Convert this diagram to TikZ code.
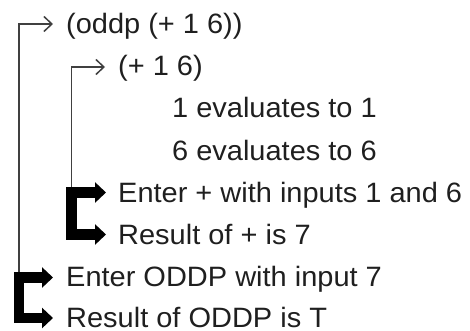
\documentclass[tikz,border=0pt]{standalone}
\usepackage{fontspec}
\setmainfont{Liberation Sans}[FakeStretch=1.035]
\usetikzlibrary{arrows.meta,calc}
\begin{document}
\begin{tikzpicture}[x=1pt,y=-1pt,
  line/.style={anchor=base west,inner sep=0pt,text=black!88,font=\fontsize{28}{34}\selectfont},
  thinarrow/.style={draw=black!75,line width=1.5pt,-{Straight Barb[length=8pt,width=15pt,line width=1.5pt]}},
  thickbracket/.style={draw=black,line width=10.5pt,line join=miter,
     {Triangle[length=11pt,width=20pt]}-{Triangle[length=11pt,width=20pt]}}]
\useasboundingbox (0,0) rectangle (470,331);
\node[line] (l1) at (66,34) {(oddp (+ 1 6))};
\node[line] (l2) at (118,76) {(+ 1 6)};
\node[line] (l3) at (172,118) {1 evaluates to 1};
\node[line] (l4) at (172,160) {6 evaluates to 6};
\node[line] (l5) at (118,202) {Enter + with inputs 1 and 6};
\node[line] (l6) at (118,244) {Result of + is 7};
\node[line] (l7) at (66,286) {Enter ODDP with input 7};
\node[line,text depth=0pt] (l8) at (66,327) {Result of ODDP is T};
% arrow tips
\coordinate (t1) at ($(l1.base west)+(-13,-10)$);
\coordinate (t2) at ($(l2.base west)+(-13,-9)$);
\coordinate (t5) at ($(l5.base west)+(-12,-9.5)$);
\coordinate (t6) at ($(l6.base west)+(-12,-9.5)$);
\coordinate (t7) at ($(l7.base west)+(-13,-8.5)$);
\coordinate (t8) at ($(l8.base west)+(-13,-9)$);
% bracket corners
\coordinate (i5) at (71.5,0 |- t5);
\coordinate (i6) at (71.5,0 |- t6);
\coordinate (o7) at (19,0 |- t7);
\coordinate (o8) at (19,0 |- t8);
% thin call arrows
\draw[thinarrow] (i5) |- (t2);
\draw[thinarrow] (o7) |- (t1);
% thick return brackets
\draw[thickbracket] (t5) -- (i5) -- (i6) -- (t6);
\draw[thickbracket] (t7) -- (o7) -- (o8) -- (t8);
\end{tikzpicture}
\end{document}
